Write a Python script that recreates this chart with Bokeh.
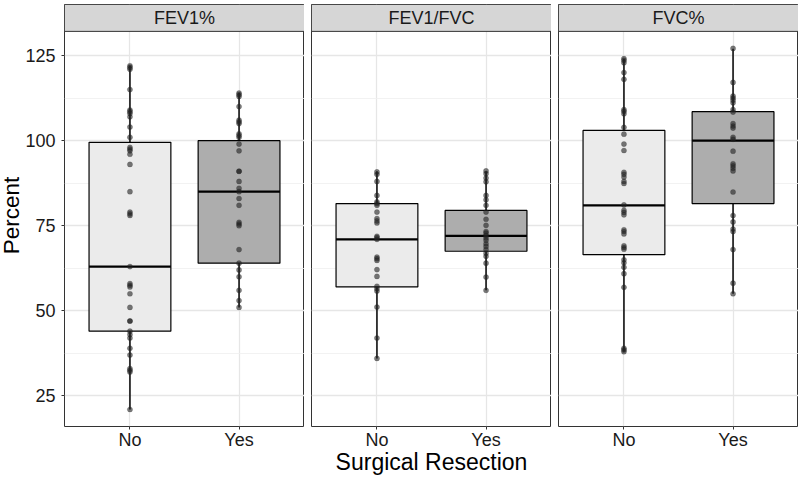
from bokeh.plotting import figure
from bokeh.models import FactorRange, Range1d, FixedTicker, ColumnDataSource, BoxAnnotation, Label
from bokeh.transform import dodge
from bokeh.layouts import row
from bokeh.embed import file_html
from bokeh.resources import INLINE

# ---------------- data ----------------
categories = ["No", "Yes"]
panel_titles = ["FEV1%", "FEV1/FVC", "FVC%"]

fev1_no = [122, 121.5, 121, 115, 109, 108.5, 108, 107, 104, 101, 98, 97.5, 97, 96, 93,
           85, 79, 78.5, 78, 63, 58, 57.5, 57, 55, 51, 47, 47, 44, 43, 42, 39, 37,
           33, 32.5, 32, 21]
fev1_yes = [114, 113.5, 113, 110, 106, 105.5, 105, 102, 101.5, 101, 99, 97, 91, 91,
            88, 86, 85, 83, 81, 76, 75.5, 75, 68, 64, 62, 60, 56, 53, 51]

ratio_no = [90.8, 90.1, 88, 83.9, 82, 81.5, 81, 79, 77.1, 76.4, 75.8, 71.9, 71.5, 71,
            65.8, 65.3, 64.8, 62.1, 60.1, 57.2, 56.5, 55.8, 51.1, 42, 36]
ratio_yes = [91.1, 90.3, 89, 87.9, 83.9, 82.6, 81, 79, 76.9, 75.1, 73.3, 72.8, 72.1,
             71.4, 70.7, 69.7, 68.9, 68, 66.9, 66, 64, 59.9, 56]

fvc_no = [124.1, 123.6, 122.9, 120, 118, 109.1, 108.6, 107.9, 103.9, 101.9, 99, 97.1,
          90.7, 90.1, 89.3, 88, 87.4, 81.1, 79.5, 78.9, 78.2, 73.8, 73.3, 72.6, 69.1,
          68.6, 68.1, 65, 64.1, 62.8, 60.9, 56.9, 39, 38.5, 38]
fvc_yes = [127.1, 117.1, 113.1, 112.5, 111.9, 111.1, 109.1, 108.4, 105, 104.3, 103.7,
           101, 100.4, 96.9, 93.2, 92.6, 91.9, 91.1, 84.9, 78, 76.1, 74, 73.3, 68, 58.1, 55]

# box statistics per panel, ordered [No, Yes]
box_lower = [[21, 51], [36, 56], [38, 55]]
box_q1 = [[44, 64], [57, 67.5], [66.5, 81.5]]
box_median = [[63, 85], [71, 72], [81, 100]]
box_q3 = [[99.5, 100], [81.5, 79.5], [103, 108.5]]
box_upper = [[122, 114], [91, 91], [124, 127]]

points = [(fev1_no, fev1_yes), (ratio_no, ratio_yes), (fvc_no, fvc_yes)]

y_ticks = [25, 50, 75, 100, 125]
y_minor = [37.5, 62.5, 87.5, 112.5]

# ---------------- styling ----------------
FONT = "Liberation Sans"
box_fills = ["#ebebeb", "#adadad"]
Y_START, Y_END = 16.0, 140.0
STRIP_BOTTOM = 132.1
FRAME_W, FRAME_H = 240, 422

figs = []
for i, title in enumerate(panel_titles):
    p = figure(
        x_range=FactorRange(*categories, range_padding=0.1, range_padding_units="absolute"),
        y_range=Range1d(Y_START, Y_END),
        frame_width=FRAME_W, frame_height=FRAME_H,
        output_backend="svg", toolbar_location=None,
        min_border_top=0, min_border_right=0, min_border_bottom=0,
        min_border_left=64 if i == 0 else 0,
    )
    p.background_fill_color = "white"
    p.border_fill_color = "white"
    p.outline_line_color = "#333333"
    p.outline_line_width = 1

    # grids
    p.xgrid.grid_line_color = "#e6e6e6"
    p.xgrid.grid_line_width = 1.3
    p.ygrid.ticker = FixedTicker(ticks=y_ticks, minor_ticks=y_minor)
    p.ygrid.grid_line_color = "#e6e6e6"
    p.ygrid.grid_line_width = 1.3
    p.ygrid.minor_grid_line_color = "#efefef"
    p.ygrid.minor_grid_line_width = 0.8

    # y axis
    p.yaxis.ticker = FixedTicker(ticks=y_ticks, minor_ticks=y_minor)
    p.yaxis.axis_line_color = None
    p.yaxis.major_tick_in = 0
    p.yaxis.major_tick_out = 3
    p.yaxis.major_tick_line_color = "#333333"
    p.yaxis.minor_tick_line_color = None
    p.yaxis.major_label_text_font = FONT
    p.yaxis.major_label_text_font_size = "18px"
    p.yaxis.major_label_text_color = "#1a1a1a"
    p.yaxis.major_label_standoff = 5
    if i == 0:
        p.yaxis.axis_label = "Percent"
        p.yaxis.axis_label_text_font = FONT
        p.yaxis.axis_label_text_font_size = "22.5px"
        p.yaxis.axis_label_text_font_style = "normal"
        p.yaxis.axis_label_text_color = "#000000"
        p.yaxis.axis_label_standoff = -2
    else:
        p.yaxis.visible = False

    # x axis
    p.xaxis.axis_line_color = None
    p.xaxis.major_tick_in = 0
    p.xaxis.major_tick_out = 3
    p.xaxis.major_tick_line_color = "#333333"
    p.xaxis.minor_tick_line_color = None
    p.xaxis.major_label_text_font = FONT
    p.xaxis.major_label_text_font_size = "18px"
    p.xaxis.major_label_text_color = "#1a1a1a"
    p.xaxis.major_label_standoff = 0
    if i == 1:
        p.xaxis.axis_label = "Surgical Resection"
        p.xaxis.axis_label_text_font = FONT
        p.xaxis.axis_label_text_font_size = "23px"
        p.xaxis.axis_label_text_font_style = "normal"
        p.xaxis.axis_label_text_color = "#000000"
        p.xaxis.axis_label_standoff = -4

    # boxplot
    src = ColumnDataSource(dict(
        cat=categories, lower=box_lower[i], q1=box_q1[i], med=box_median[i],
        q3=box_q3[i], upper=box_upper[i], fill=box_fills,
    ))
    p.segment(x0="cat", y0="lower", x1="cat", y1="upper", source=src,
              line_color="black", line_width=1.5)
    p.vbar(x="cat", width=0.75, bottom="q1", top="q3", source=src,
           fill_color="fill", line_color="black", line_width=1.2)
    p.segment(x0=dodge("cat", -0.375, range=p.x_range), y0="med",
              x1=dodge("cat", 0.375, range=p.x_range), y1="med", source=src,
              line_color="black", line_width=2.2)

    # points
    no_vals, yes_vals = points[i]
    psrc = ColumnDataSource(dict(
        cat=["No"] * len(no_vals) + ["Yes"] * len(yes_vals),
        val=list(no_vals) + list(yes_vals),
    ))
    p.scatter(x="cat", y="val", source=psrc, size=5.2, fill_color="#222222",
              fill_alpha=0.6, line_color="#222222", line_alpha=0.35, line_width=0.5)

    # facet strip
    p.add_layout(BoxAnnotation(bottom=STRIP_BOTTOM, top=Y_END, fill_color="#d6d6d6",
                               fill_alpha=1.0, line_color="#333333", line_width=1,
                               line_alpha=1.0))
    p.add_layout(Label(x=1.0, y=(STRIP_BOTTOM + Y_END) / 2, text=title,
                       text_align="center", text_baseline="middle",
                       text_font=FONT, text_font_size="18px", text_color="#1a1a1a"))
    figs.append(p)

layout = row(*figs, spacing=7, margin=(4, -20, -20, -4))

with open("out.html", "w") as f:
    f.write(file_html(layout, INLINE))
